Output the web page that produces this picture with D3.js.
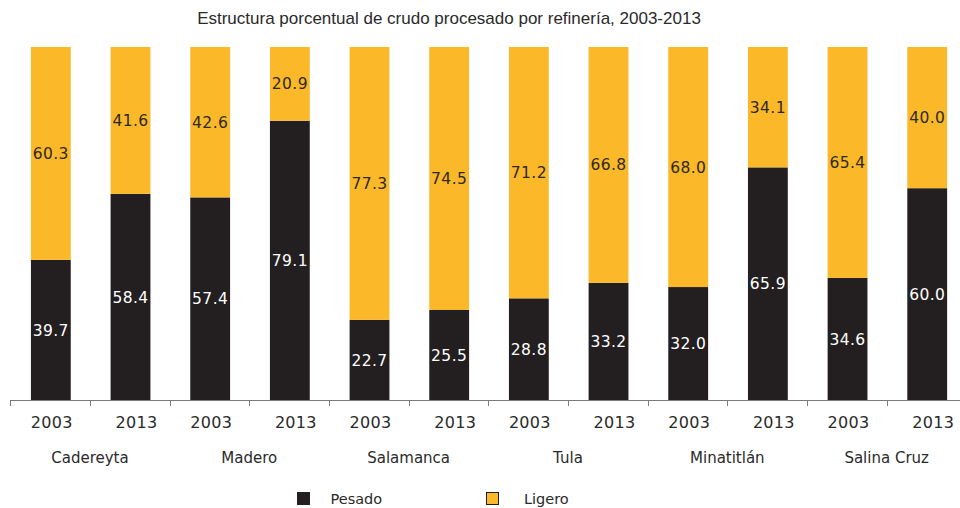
<!DOCTYPE html>
<html>
<head>
<meta charset="utf-8">
<script src="https://cdn.jsdelivr.net/npm/d3@7"></script>
<style>
  html, body { margin: 0; padding: 0; background: #ffffff; }
  svg { display: block; }
</style>
</head>
<body>
<svg id="chart" width="960" height="508"></svg>
<script>
// Refineries (each with two years) and the share of heavy / light crude processed
const refinerias = ["Cadereyta", "Madero", "Salamanca", "Tula", "Minatitlán", "Salina Cruz"];
const anios = ["2003", "2013"];
const pesado = [39.7, 58.4, 57.4, 79.1, 22.7, 25.5, 28.8, 33.2, 32.0, 65.9, 34.6, 60.0];
const ligero = [60.3, 41.6, 42.6, 20.9, 77.3, 74.5, 71.2, 66.8, 68.0, 34.1, 65.4, 40.0];
const series = ["Pesado", "Ligero"];
const titulo = "Estructura porcentual de crudo procesado por refinería, 2003-2013";

const colores = { Pesado: "#231f20", Ligero: "#fbb829" };
const labelColor = { Pesado: "#ffffff", Ligero: "#2e2a22" };
const fontMain = "'DejaVu Sans', sans-serif";

const W = 960, H = 508;
const svg = d3.select("#chart");

// one entry per bar
const rows = [];
refinerias.forEach((r, i) => {
  anios.forEach((a, j) => {
    const k = i * anios.length + j;
    rows.push({ key: r + " " + a, refineria: r, anio: a, Pesado: pesado[k], Ligero: ligero[k] });
  });
});

const axisLeft = 10.3, step = 79.67;
const x = d3.scaleBand()
  .domain(rows.map(d => d.key))
  .range([axisLeft + 0.7, axisLeft + 0.7 + step * rows.length])
  .paddingInner(0.5)
  .paddingOuter(0.25);

const y = d3.scaleLinear().domain([0, 100]).range([400, 47]);

const stacked = d3.stack().keys(series)(rows);

// bars
const layer = svg.append("g").selectAll("g")
  .data(stacked)
  .join("g")
  .attr("fill", s => colores[s.key]);

layer.selectAll("rect")
  .data(s => s.map(d => ({ ...d, key: s.key })))
  .join("rect")
  .attr("x", d => x(d.data.key))
  .attr("width", x.bandwidth())
  .attr("y", d => y(d[1]))
  .attr("height", d => y(d[0]) - y(d[1]));

// value labels inside each segment
layer.selectAll("text")
  .data(s => s.map(d => ({ ...d, key: s.key })))
  .join("text")
  .attr("x", d => x(d.data.key) + x.bandwidth() / 2)
  .attr("y", d => (y(d[0]) + y(d[1])) / 2)
  .attr("dy", "0.36em")
  .attr("text-anchor", "middle")
  .attr("fill", d => labelColor[d.key])
  .style("font-family", fontMain)
  .style("font-size", "15.5px")
  .style("letter-spacing", "0.4px")
  .text(d => d3.format(".1f")(d.data[d.key]));

// category axis: baseline with ticks at the band boundaries
const axisG = svg.append("g");
axisG.append("line")
  .attr("x1", axisLeft).attr("x2", W)
  .attr("y1", 400.5).attr("y2", 400.5)
  .attr("stroke", "#7a7a7a").attr("stroke-width", 1);

const tickX = d3.range(rows.length).map(i => axisLeft + step * i);
axisG.selectAll("line.tick")
  .data(tickX)
  .join("line")
  .attr("class", "tick")
  .attr("x1", d => Math.round(d) + 0.5).attr("x2", d => Math.round(d) + 0.5)
  .attr("y1", 400).attr("y2", 406)
  .attr("stroke", "#7a7a7a").attr("stroke-width", 1);

// year labels under each bar
axisG.selectAll("text.year")
  .data(rows)
  .join("text")
  .attr("class", "year")
  .attr("x", d => x(d.key) + x.bandwidth() / 2 + (d.anio === anios[1] ? 6 : 1))
  .attr("y", 428)
  .attr("text-anchor", "middle")
  .attr("fill", "#2a2a2a")
  .style("font-family", fontMain)
  .style("font-size", "16px")
  .style("letter-spacing", "0.3px")
  .text(d => d.anio);

// refinery names centred under each pair of bars
axisG.selectAll("text.ref")
  .data(refinerias)
  .join("text")
  .attr("class", "ref")
  .attr("x", (r, i) => axisLeft + step * (i * 2 + 1))
  .attr("y", 463)
  .attr("text-anchor", "middle")
  .attr("fill", "#2a2a2a")
  .style("font-family", fontMain)
  .style("font-size", "15px")
  .text(r => r);

// title
svg.append("text")
  .attr("x", 449)
  .attr("y", 23.5)
  .attr("text-anchor", "middle")
  .attr("fill", "#2a2a2a")
  .style("font-family", "'Liberation Sans', Arial, sans-serif")
  .style("font-size", "17px")
  .text(titulo);

// legend
const legendX = [297.5, 486.5];
const legend = svg.append("g").selectAll("g")
  .data(series)
  .join("g")
  .attr("transform", (d, i) => `translate(${legendX[i]},492.5)`);

legend.append("rect")
  .attr("width", 12).attr("height", 12)
  .attr("fill", d => colores[d])
  .attr("stroke", "#231f20").attr("stroke-width", 1);

legend.append("text")
  .attr("x", (d, i) => i === 0 ? 33 : 37.5)
  .attr("y", 11.5)
  .attr("fill", "#2a2a2a")
  .style("font-family", fontMain)
  .style("font-size", "14.5px")
  .text(d => d);
</script>
</body>
</html>
